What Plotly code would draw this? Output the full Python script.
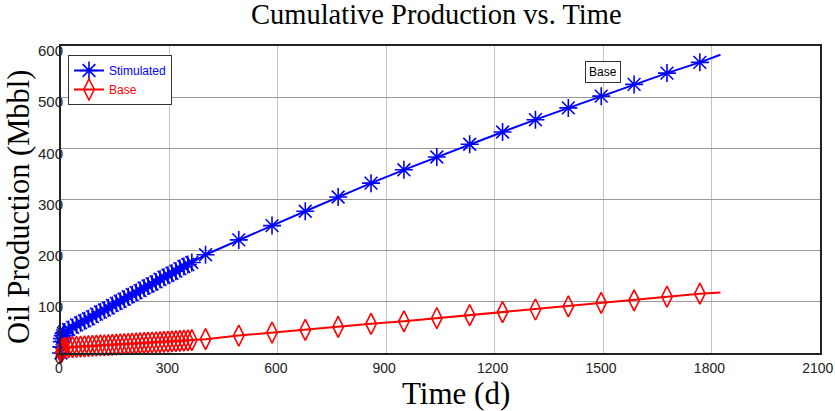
import plotly.graph_objects as go

# ---- data ----
days = [0, 1, 2, 3, 5, 7, 10, 21, 32, 43, 54, 65, 76, 87, 98, 109, 120, 131, 142,
        153, 164, 175, 186, 197, 208, 219, 230, 241, 252, 263, 274, 285, 296, 307,
        318, 329, 340, 351, 362, 400, 492, 584, 676, 767, 858, 949, 1040, 1131,
        1222, 1313, 1404, 1495, 1586, 1677, 1768]

stimulated = [0, 12, 22, 28, 34, 38, 41, 46, 50, 55, 59, 63, 67, 71, 76, 80, 84, 88,
              93, 97, 101, 105, 110, 114, 118, 122, 127, 131, 135, 139, 144, 148, 152,
              156, 160, 165, 169, 173, 177, 192, 221, 249, 277, 305, 332, 358, 383,
              408, 432, 456, 479, 502, 525, 547, 568]

base = [0, 3, 5, 6, 8, 9, 10, 11, 11.5, 12, 12.4, 12.9, 13.3, 13.8, 14.2, 14.7, 15.1,
        15.6, 16, 16.5, 16.9, 17.4, 17.8, 18.3, 18.7, 19.2, 19.6, 20.1, 20.5, 21, 21.4,
        21.9, 22.3, 22.8, 23.2, 23.7, 24.1, 24.6, 25, 27, 34, 40, 45, 51, 57, 62, 68,
        74, 80, 85, 91, 98, 103, 110, 116]

end_day = 1825
stimulated_end = 583
base_end = 118

x_ticks = [0, 300, 600, 900, 1200, 1500, 1800, 2100]
y_ticks = [0, 100, 200, 300, 400, 500, 600]

BLUE = "#0000ff"
RED = "#ff0000"
SANS = "Liberation Sans, Arial, sans-serif"
SERIF = "Liberation Serif, Times New Roman, serif"

fig = go.Figure()

# line extensions beyond last marker
fig.add_trace(go.Scatter(x=[days[-1], end_day], y=[stimulated[-1], stimulated_end],
                         mode="lines", line=dict(color=BLUE, width=2),
                         showlegend=False, hoverinfo="skip"))
fig.add_trace(go.Scatter(x=[days[-1], end_day], y=[base[-1], base_end],
                         mode="lines", line=dict(color=RED, width=2),
                         showlegend=False, hoverinfo="skip"))

fig.add_trace(go.Scatter(
    x=days, y=stimulated, mode="lines+markers",
    name="<span style='color:#0000ff'>Stimulated</span>",
    line=dict(color=BLUE, width=2),
    marker=dict(symbol="asterisk-open", size=15, color=BLUE,
                line=dict(color=BLUE, width=1.6)),
    cliponaxis=False))

fig.add_trace(go.Scatter(
    x=days, y=base, mode="lines+markers",
    name="<span style='color:#ff0000'>Base</span>",
    line=dict(color=RED, width=2),
    marker=dict(symbol="diamond-tall-open", size=15, color=RED,
                line=dict(color=RED, width=1.6)),
    cliponaxis=False))

L, R, T, B = 61, 15, 46, 58
W, H = 835, 411
pw = W - L - R
ph = H - T - B


def px_x(p):
    return (p - L) / pw


def px_y(p):
    return (H - B - p) / ph


fig.update_layout(
    width=W, height=H,
    margin=dict(l=L, r=R, t=T, b=B, pad=0, autoexpand=False),
    paper_bgcolor="white", plot_bgcolor="white",
    showlegend=True,
    legend=dict(x=px_x(68), y=px_y(55), xanchor="left", yanchor="top",
                bgcolor="white", bordercolor="#333333", borderwidth=1,
                font=dict(family=SANS, size=12, color="#000000"),
                itemwidth=30, tracegroupgap=0),
    xaxis=dict(range=[0, 2100.5], tickvals=x_ticks, ticktext=[str(v) for v in x_ticks],
               showgrid=True, gridcolor="#c4c4c4", gridwidth=1,
               showline=True, linecolor="#222222", linewidth=2, mirror=True,
               ticks="", ticklen=0, zeroline=False, ticklabelstandoff=1,
               ticklabelshift=-2, ticklabeloverflow="allow", automargin=False,
               tickfont=dict(family=SANS, size=14, color="#222222")),
    yaxis=dict(range=[0, 600], tickvals=y_ticks, ticktext=[str(v) for v in y_ticks],
               showgrid=True, gridcolor="#9a9a9a", gridwidth=1,
               showline=True, linecolor="#222222", linewidth=2, mirror=True,
               ticks="", ticklen=0, zeroline=False, ticklabelshift=5,
               ticklabelstandoff=-7, automargin=False,
               tickfont=dict(family=SANS, size=15, color="#222222")),
    annotations=[
        dict(text="Cumulative Production vs. Time", xref="paper", yref="paper",
             x=px_x(436), y=px_y(-3), xanchor="center", yanchor="top",
             showarrow=False, font=dict(family=SERIF, size=28.5, color="#000000")),
        dict(text="Time (d)", xref="paper", yref="paper",
             x=px_x(456), y=px_y(393), xanchor="center", yanchor="middle",
             showarrow=False, font=dict(family=SERIF, size=31, color="#000000")),
        dict(text="Oil Production (Mbbl)", xref="paper", yref="paper",
             x=px_x(19), y=px_y(207), xanchor="center", yanchor="middle",
             textangle=-90, showarrow=False,
             font=dict(family=SERIF, size=30.5, color="#000000")),
        dict(text="Base", xref="x", yref="y", x=1500, y=550,
             xanchor="center", yanchor="middle", showarrow=False,
             bgcolor="white", bordercolor="#333333", borderwidth=1, borderpad=3,
             font=dict(family=SANS, size=12, color="#000000")),
    ],
)

fig.write_html("out.html")
